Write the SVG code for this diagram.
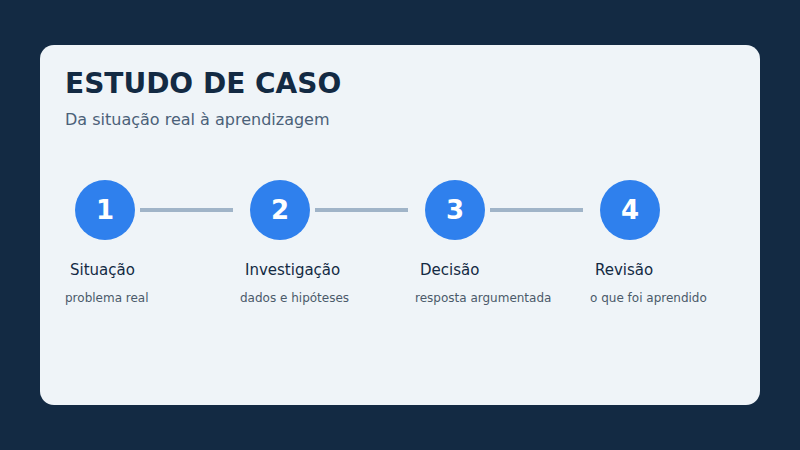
<svg xmlns="http://www.w3.org/2000/svg" width="800" height="450" viewBox="0 0 800 450">
<style>
text{font-family:"DejaVu Sans",sans-serif}
.c{fill:#2f80ed}
.n{fill:#fff;font-size:26px;font-weight:bold;text-anchor:middle}
.l{fill:#132a43;font-size:15px}
.s{fill:#4b5a6a;font-size:12px}
.e{stroke:#a0b4c8;stroke-width:4}
</style>
<rect width="800" height="450" fill="#132a43"/>
<rect x="40" y="45" width="720" height="360" rx="14" fill="#eff4f8"/>
<text x="65" y="93" font-size="28" font-weight="bold" fill="#132a43">ESTUDO DE CASO</text>
<text x="65" y="125" font-size="16" fill="#4b6178">Da situação real à aprendizagem</text>
<g id="connectors">
<line class="e" x1="140" y1="210" x2="233" y2="210"/>
<line class="e" x1="315" y1="210" x2="408" y2="210"/>
<line class="e" x1="490" y1="210" x2="583" y2="210"/>
</g>
<g id="n1"><circle class="c" cx="105" cy="210" r="30"/><text class="n" x="105" y="219">1</text><text class="l" x="70" y="275">Situação</text><text class="s" x="65" y="302">problema real</text></g>
<g id="n2"><circle class="c" cx="280" cy="210" r="30"/><text class="n" x="280" y="219">2</text><text class="l" x="245" y="275">Investigação</text><text class="s" x="240" y="302">dados e hipóteses</text></g>
<g id="n3"><circle class="c" cx="455" cy="210" r="30"/><text class="n" x="455" y="219">3</text><text class="l" x="420" y="275">Decisão</text><text class="s" x="415" y="302">resposta argumentada</text></g>
<g id="n4"><circle class="c" cx="630" cy="210" r="30"/><text class="n" x="630" y="219">4</text><text class="l" x="595" y="275">Revisão</text><text class="s" x="590" y="302">o que foi aprendido</text></g>
</svg>
